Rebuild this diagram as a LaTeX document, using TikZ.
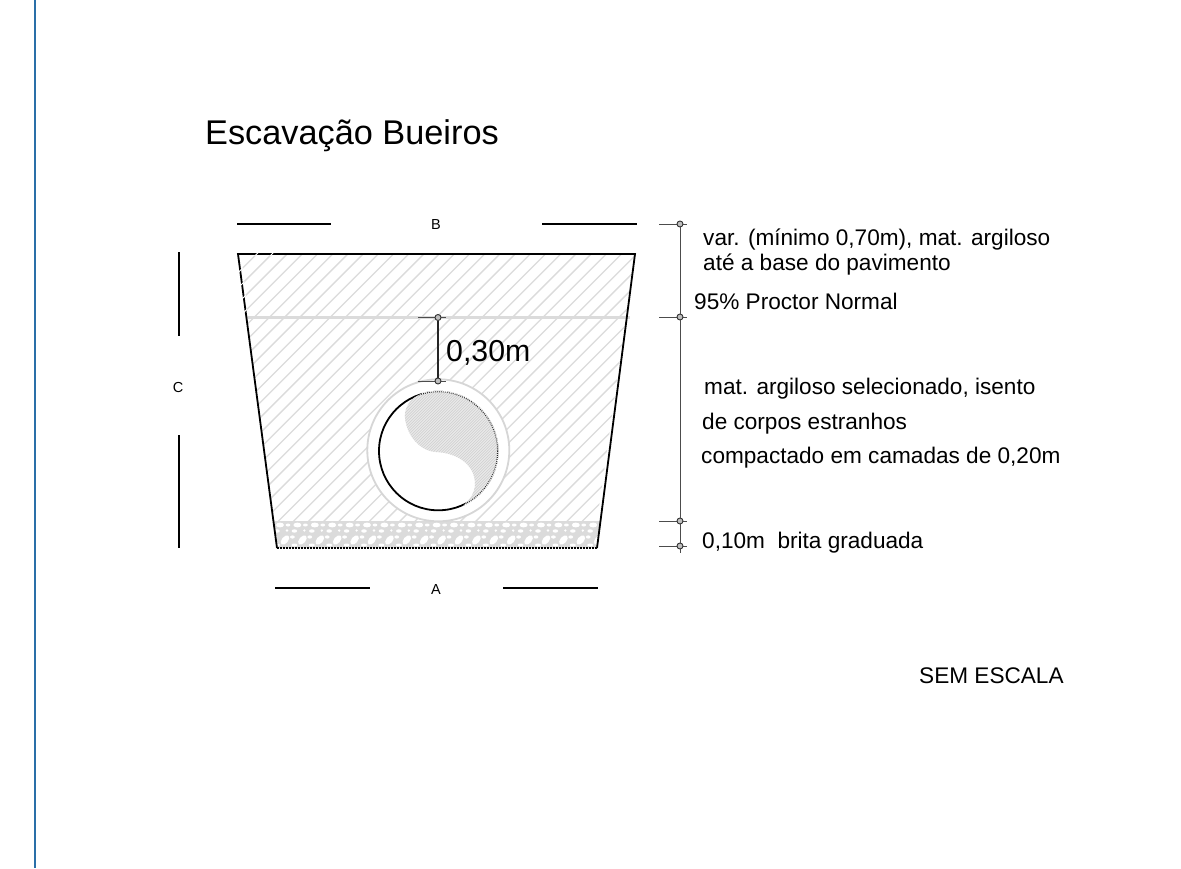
\documentclass[tikz,border=0pt]{standalone}
\usepackage{fontspec}
\setmainfont{Liberation Sans}
\definecolor{edgeblue}{HTML}{2A6FA8}
\tikzset{
  x=1pt,y=-1pt,
  hatchline/.style={draw=black!14,line width=1.3pt},
  outline/.style={draw=black,line width=1.8pt},
  dimline/.style={draw=black!70,line width=1pt},
  dimtick/.style={draw=black!70,line width=0.9pt},
  dot/.style={circle,draw=black!80,fill=black!25,line width=0.9pt,inner sep=0pt,minimum size=6pt},
  mark line/.style={draw=black,line width=1.1pt},
  note/.style={inner sep=0pt,anchor=base west,font=\fontsize{22.6}{26}\selectfont},
  letter/.style={inner sep=0pt,font=\fontsize{14.5}{16}\selectfont}
}
\newcommand{\greypath}{(421.5,394) .. controls (410,398) and (404,408) .. (405,418)
  .. controls (407,436) and (420,451) .. (436,452)
  .. controls (458,453) and (475,465) .. (475,484)
  .. controls (475,492) and (470,500) .. (463,506)
  -- (500,520) -- (520,440) -- (470,370) -- (421.5,380) -- cycle}
\begin{document}
\begin{tikzpicture}
\useasboundingbox (0,0) rectangle (1181,868);
\fill[white] (0,0) rectangle (1181,868);
\draw[draw=edgeblue,line width=1.6pt] (35,0) -- (35,868);

% hatch of the backfill
\begin{scope}
\clip (238,254) -- (635,254) -- (597,521) -- (273,521) -- cycle;
\foreach \i in {0,...,45}{
  \draw[hatchline] ({-49.3+15.2*\i},560) -- ++(400,-400);
}
\end{scope}
\draw[draw=black!14,line width=2.2pt] (247,317.5) -- (630,317.5);

% gravel layer
\begin{scope}
\clip (273.5,521) -- (601,521) -- (597,548) -- (277,548) -- cycle;
\fill[black!14] (270,521) rectangle (605,548);
\foreach \i in {0,...,19}{
  \fill[white] ({280+17.4*\i},525) ellipse (4 and 2.4);
  \fill[white] ({288+17.4*\i},525) ellipse (2.4 and 1.5);
  \fill[white] ({277+17.4*\i},531) ellipse (2.8 and 1.7);
  \fill[white] ({287+17.4*\i},530.5) ellipse (1.3 and 1.3);
  \fill[white,rotate around={50:({285+17.4*\i},540)}] ({285+17.4*\i},540) ellipse (5.5 and 3.2);
  \fill[white] ({275+17.4*\i},537) ellipse (2.4 and 1.6);
  \fill[white] ({277+17.4*\i},545) ellipse (3 and 1.5);
}
\end{scope}

% trench outline
\draw[outline] (277,548) -- (238,254) -- (635,254) -- (597,548);
\draw[draw=black,line width=1.2pt,dash pattern=on 1.5pt off 1.5pt] (277,548) -- (597,548);
% small nicks where the hatch crosses the outline
\begin{scope}
\clip (236,252) -- (276,252) -- (276,256) -- (242,256) -- (248,318) -- (244,318) -- cycle;
\foreach \i in {0,...,12}{
  \draw[draw=white,line width=0.9pt] ({-49.3+15.2*\i},560) -- ++(400,-400);
}
\end{scope}

% pipe
\fill[white] (438.3,450.3) circle (71);
\draw[draw=black!16,line width=1.8pt] (438.3,450.3) circle (71);
\draw[draw=black,line width=1.8pt] (438.3,451) circle (59.3);
\begin{scope}
\clip \greypath;
\fill[white] (438.3,451) circle (60.4);
\begin{scope}
\clip (438.3,451) circle (59.3);
\fill[black!8] (370,380) rectangle (510,520);
\foreach \i in {0,...,110}{
  \draw[draw=black!18,line width=0.7pt] ({270+2.8*\i},520) -- ++(200,-200);
}
\end{scope}
\draw[draw=black!85,line width=1.1pt,dash pattern=on 0.8pt off 1.2pt] (438.3,451) circle (59.3);
\end{scope}

% 0,30m dimension
\coordinate (p1) at (438,317.5);
\coordinate (p2) at (438,381);
\coordinate (p1l) at (418,317.5); \coordinate (p1r) at (446,317.5);
\coordinate (p2l) at (418,381); \coordinate (p2r) at (446,381);
\draw[draw=black!70,line width=0.8pt] (p1l) -- (p1r);
\draw[draw=black!70,line width=0.8pt] (p2l) -- (p2r);
\node[dot] (d1) at (p1) {};
\node[dot] (d2) at (p2) {};
\draw[draw=black!85,line width=1.3pt] (d1) -- (d2);
\node[inner sep=0pt,anchor=base west,font=\fontsize{30.3}{34}\selectfont] (lbl) at (446,361) {0,30m};

% right-hand dimension chain
\coordinate (t0) at (680,224);
\coordinate (t1) at (680,317);
\coordinate (t2) at (680,521);
\coordinate (t3) at (680,546);
\foreach \n/\y in {a/224,b/317,c/521,d/546}{
  \coordinate (\n l) at (659,\y);
  \coordinate (\n r) at (687,\y);
  \draw[dimtick] (\n l) -- (\n r);
}
\node[dot] (n0) at (t0) {};
\node[dot] (n1) at (t1) {};
\node[dot] (n2) at (t2) {};
\node[dot] (n3) at (t3) {};
\coordinate (endv) at (680,553);
\draw[dimline] (n0) -- (n1);
\draw[dimline] (n1) -- (n2);
\draw[dimline] (n2) -- (n3);
\draw[dimline] (n3) -- (endv);

% A, B, C marks
\coordinate (b1) at (237,224); \coordinate (b2) at (331,224);
\coordinate (b3) at (542,224); \coordinate (b4) at (637,224);
\coordinate (a1) at (275,588); \coordinate (a2) at (370,588);
\coordinate (a3) at (503,588); \coordinate (a4) at (598,588);
\coordinate (c1) at (179,252); \coordinate (c2) at (179,336);
\coordinate (c3) at (179,435); \coordinate (c4) at (179,548);
\draw[mark line] (b1) -- (b2);
\draw[mark line] (b3) -- (b4);
\draw[mark line] (a1) -- (a2);
\draw[mark line] (a3) -- (a4);
\draw[mark line] (c1) -- (c2);
\draw[mark line] (c3) -- (c4);
\node[letter] (lb) at (436,225) {B};
\node[letter] (la) at (436,590) {A};
\node[letter] (lc) at (178,388) {C};

% texts
\node[inner sep=0pt,anchor=base west,font=\fontsize{34.3}{38}\selectfont] (title) at (205,144) {Escavação Bueiros};
\node[note] (n1a) at (703,245) {var. (mínimo 0,70m), mat. argiloso};
\node[note] (n1b) at (703,270) {até a base do pavimento};
\node[note] (n1c) at (694,309) {95\% Proctor Normal};
\node[note] (n2a) at (704,394) {mat. argiloso selecionado, isento};
\node[note] (n2b) at (702,429) {de corpos estranhos};
\node[note] (n2c) at (701,463) {compactado em camadas de 0,20m};
\node[note] (n3) at (702,548) {0,10m\ \ brita graduada};
\node[note] (sem) at (919,683) {SEM ESCALA};
\end{tikzpicture}
\end{document}
